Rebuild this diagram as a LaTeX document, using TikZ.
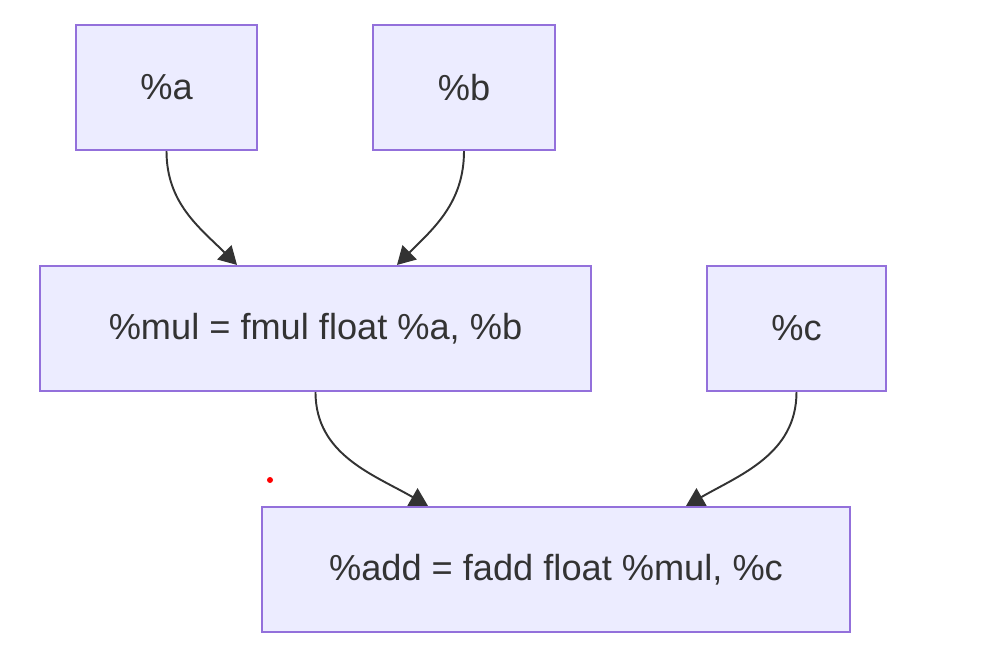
\documentclass[tikz,border=0pt]{standalone}
\usepackage{fontspec}
\setmainfont{Liberation Sans}
\usetikzlibrary{arrows.meta,calc,positioning}
\definecolor{NodeFill}{HTML}{ECECFF}
\definecolor{NodeLine}{HTML}{9370DB}
\definecolor{EdgeGrey}{HTML}{333333}

\begin{document}
\begin{tikzpicture}[x=0.02cm,y=0.02cm,
  val/.style={draw=NodeLine,fill=NodeFill,line width=1.2pt,minimum height=2.5cm,
    text=EdgeGrey,font=\fontsize{20.6}{24}\selectfont,inner sep=0pt},
  flow/.style={draw=EdgeGrey,line width=1.1pt,-{Triangle[length=0.36cm,width=0.4cm]}}]
\useasboundingbox (0,0) rectangle (981,664);
\node[val,minimum width=3.62cm] (a) at (166.5,576.5) {\%a};
\node[val,minimum width=3.64cm] (b) at (464,576.5) {\%b};
\node[val,minimum width=11.02cm] (mul) at (315.5,335.5) {\%mul = fmul float \%a, \%b};
\node[val,minimum width=3.58cm] (c) at (796.5,335.5) {\%c};
\node[val,minimum width=11.76cm] (add) at (556,94.5) {\%add = fadd float \%mul, \%c};
\draw[flow] (a.south) to[out=-90,in=135] ([xshift=-1.57cm]mul.north);
\draw[flow] (b.south) to[out=-90,in=45] ([xshift=1.63cm]mul.north);
\draw[flow] (mul.south) to[out=-90,in=150] ([xshift=-2.56cm]add.north);
\draw[flow] (c.south) to[out=-90,in=30] ([xshift=2.6cm]add.north);
\fill[red] (270,184) circle (0.06cm);
\end{tikzpicture}
\end{document}
